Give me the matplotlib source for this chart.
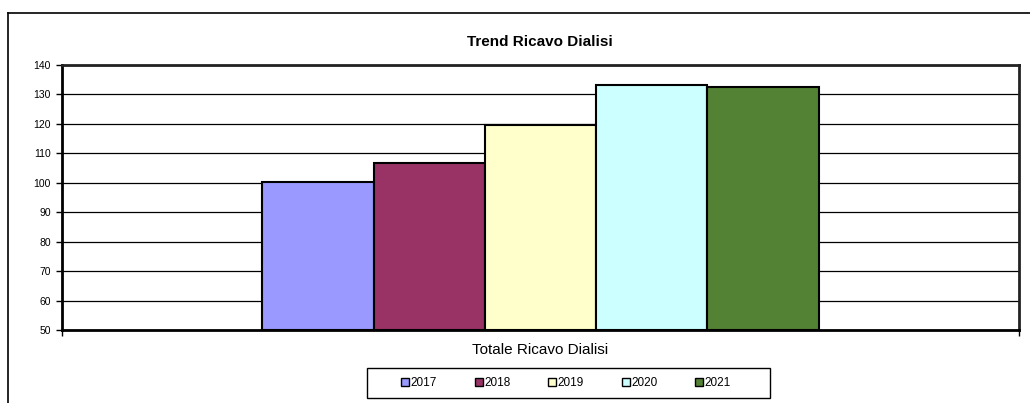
import matplotlib.pyplot as plt
from matplotlib.lines import Line2D
from matplotlib.patches import Rectangle

plt.rcParams['font.family'] = ['Liberation Sans', 'DejaVu Sans']

# dati
anni = ['2017', '2018', '2019', '2020', '2021']
valori = [100.2, 106.6, 119.6, 133.3, 132.5]
colori = ['#9999FF', '#993366', '#FFFFCC', '#CCFFFF', '#548235']
categoria = 'Totale Ricavo Dialisi'

W, H = 1030, 403
fig = plt.figure(figsize=(W / 100, H / 100), dpi=100)
ax = fig.add_axes([62/W, 73/H, 957/W, 265/H])

larghezza = 0.1162
n = len(anni)
for i in range(n):
    pos = (i - (n - 1) / 2) * larghezza
    ax.bar(pos, valori[i] - 50, bottom=50, width=larghezza, color=colori[i],
           edgecolor='black', linewidth=1.5, label=anni[i], zorder=3)

ax.set_xlim(-0.5, 0.5)
ax.set_ylim(50, 140)
ax.set_yticks(range(50, 141, 10))
ax.grid(axis='y', color='black', linewidth=0.9, zorder=0)
ax.tick_params(axis='y', labelsize=7.5, length=4, width=1, pad=4)

ax.set_xticks([-0.5, 0.5])
ax.set_xticklabels(['', ''])
ax.tick_params(axis='x', length=4, width=1)
ax.set_xticks([0], minor=True)
ax.set_xticklabels([categoria], minor=True, fontsize=11)
ax.tick_params(axis='x', which='minor', length=0, pad=9)

for lato in ['left', 'bottom']:
    ax.spines[lato].set_linewidth(2)
    ax.spines[lato].set_color('black')
for lato in ['top', 'right']:
    ax.spines[lato].set_linewidth(2)
    ax.spines[lato].set_color('#222222')

fig.text(540/W, 1 - 42/H, 'Trend Ricavo Dialisi', ha='center', va='center',
         fontsize=11, fontweight='bold')

leg = fig.legend(loc='center', bbox_to_anchor=(566/W, 1 - 383/H), ncol=5,
                 fontsize=8.5, frameon=False,
                 handlelength=0.7, handleheight=0.7, handletextpad=0.1,
                 columnspacing=3.2)
for h in leg.legend_handles:
    h.set_linewidth(1)

# riquadro della legenda
fig.add_artist(Rectangle((367/W, 1 - 398/H), 403/W, 30/H, transform=fig.transFigure,
                         fill=False, edgecolor='black', linewidth=1))

# cornice esterna (solo lato sinistro e superiore visibili)
fig.add_artist(Line2D([8/W, 1], [1 - 13/H, 1 - 13/H], color='black', linewidth=1.2))
fig.add_artist(Line2D([8/W, 8/W], [0, 1 - 13/H], color='black', linewidth=1.2))

fig.savefig('out.png', dpi=100)
